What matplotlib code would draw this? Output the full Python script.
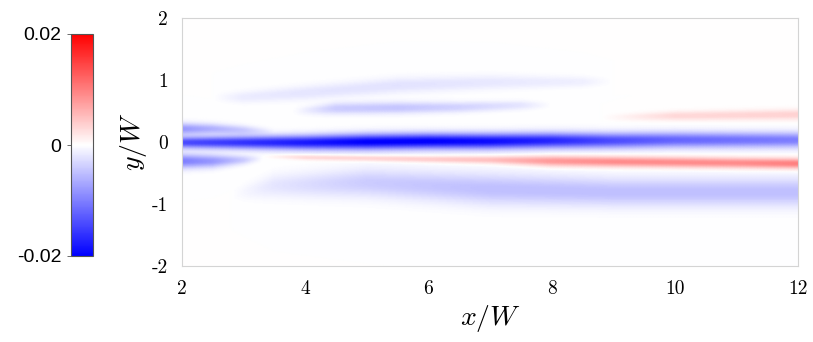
import numpy as np
import matplotlib.pyplot as plt

plt.rcParams['mathtext.fontset'] = 'cm'

# band data: x stations, centre y, half-width, amplitude
core_x = [2, 3, 4, 5, 6, 7, 8, 9, 10, 11, 12]
core_y = [0.0, 0.0, 0.0, 0.01, 0.02, 0.02, 0.03, 0.03, 0.04, 0.04, 0.04]
core_w = [0.09, 0.10, 0.11, 0.12, 0.12, 0.12, 0.12, 0.12, 0.12, 0.12, 0.12]
core_a = [-0.014, -0.016, -0.018, -0.020, -0.020, -0.019, -0.017, -0.014, -0.012, -0.011, -0.010]

upl_x = [2, 2.5, 3, 3.5]
upl_y = [0.22, 0.22, 0.2, 0.18]
upl_w = [0.09, 0.08, 0.07, 0.05]
upl_a = [-0.008, -0.006, -0.004, 0.0]

lol_x = [2, 2.5, 3, 3.3]
lol_y = [-0.3, -0.3, -0.28, -0.26]
lol_w = [0.11, 0.10, 0.07, 0.05]
lol_a = [-0.010, -0.008, -0.004, 0.0]

red_x = [3.3, 4, 6, 7, 8, 9, 10, 11, 12]
red_y = [-0.22, -0.24, -0.27, -0.28, -0.3, -0.31, -0.32, -0.33, -0.34]
red_w = [0.03, 0.04, 0.05, 0.06, 0.08, 0.08, 0.08, 0.08, 0.08]
red_a = [0.0, 0.003, 0.004, 0.005, 0.008, 0.009, 0.009, 0.009, 0.010]

low_x = [2.8, 3.5, 5, 7, 9, 12]
low_y = [-0.85, -0.7, -0.65, -0.75, -0.8, -0.8]
low_w = [0.10, 0.18, 0.22, 0.24, 0.22, 0.22]
low_a = [0.0, -0.002, -0.004, -0.005, -0.005, -0.005]

mid_x = [3.8, 4.5, 5.5, 6.5, 7.5, 8]
mid_y = [0.5, 0.55, 0.56, 0.57, 0.6, 0.6]
mid_w = [0.06, 0.09, 0.09, 0.08, 0.07, 0.05]
mid_a = [0.0, -0.004, -0.0045, -0.0035, -0.002, 0.0]

top_x = [2.5, 3, 4, 5.5, 7, 8.5, 9]
top_y = [0.72, 0.73, 0.8, 0.92, 0.97, 0.98, 0.98]
top_w = [0.07, 0.09, 0.11, 0.12, 0.11, 0.08, 0.06]
top_a = [0.0, -0.0015, -0.002, -0.0022, -0.0018, -0.0012, 0.0]

rup_x = [8.8, 10, 12]
rup_y = [0.40, 0.43, 0.45]
rup_w = [0.05, 0.07, 0.08]
rup_a = [0.0, 0.003, 0.0035]

bands = [
    (core_x, core_y, core_w, core_a),
    (upl_x, upl_y, upl_w, upl_a),
    (lol_x, lol_y, lol_w, lol_a),
    (red_x, red_y, red_w, red_a),
    (low_x, low_y, low_w, low_a),
    (mid_x, mid_y, mid_w, mid_a),
    (top_x, top_y, top_w, top_a),
    (rup_x, rup_y, rup_w, rup_a),
]

xg = np.linspace(2, 12, 400)
yg = np.linspace(-2, 2, 400)
X, Y = np.meshgrid(xg, yg)
F = np.zeros_like(X)
for bx, by, bw, ba in bands:
    yc = np.interp(xg, bx, by)
    w = np.interp(xg, bx, bw)
    a = np.interp(xg, bx, ba, left=0, right=0)
    F += a[None, :] * np.exp(-((Y - yc[None, :]) / w[None, :]) ** 2)

fig = plt.figure(figsize=(8.13, 3.42), dpi=100)
ax = fig.add_axes([182/813, 76/342, 616/813, 248/342])
pc = ax.pcolormesh(X, Y, F, cmap='bwr', vmin=-0.02, vmax=0.02, shading='gouraud', rasterized=True)
ax.set_xlim(2, 12)
ax.set_ylim(-2, 2)
for s in ax.spines.values():
    s.set_color('#d4d4d4')
    s.set_linewidth(0.8)
ax.tick_params(length=0, pad=10)
xt = [2, 4, 6, 8, 10, 12]
yt = [-2, -1, 0, 1, 2]
ax.set_xticks(xt)
ax.set_xticklabels([str(v) for v in xt], fontfamily='cmr10', fontsize=14)
ax.set_yticks(yt)
ax.set_yticklabels([str(v) for v in yt], fontfamily='cmr10', fontsize=14)
ax.set_xlabel(r'$x/W$', fontsize=20, labelpad=4)
ax.set_ylabel(r'$y/W$', fontsize=20, labelpad=2)

cax = fig.add_axes([71/813, 86/342, 22/813, 222/342])
cb = fig.colorbar(pc, cax=cax)
cb.outline.set_edgecolor('#555555')
cb.outline.set_linewidth(0.8)
cax.yaxis.set_ticks_position('left')
cb.set_ticks([-0.02, 0, 0.02])
cb.set_ticklabels(['-0.02', '0', '0.02'])
cax.tick_params(length=3, width=0.6, color='#555555', labelsize=14, pad=4)
for t in cax.get_yticklabels():
    t.set_fontfamily('Liberation Sans')

fig.savefig('out.png', dpi=100)
